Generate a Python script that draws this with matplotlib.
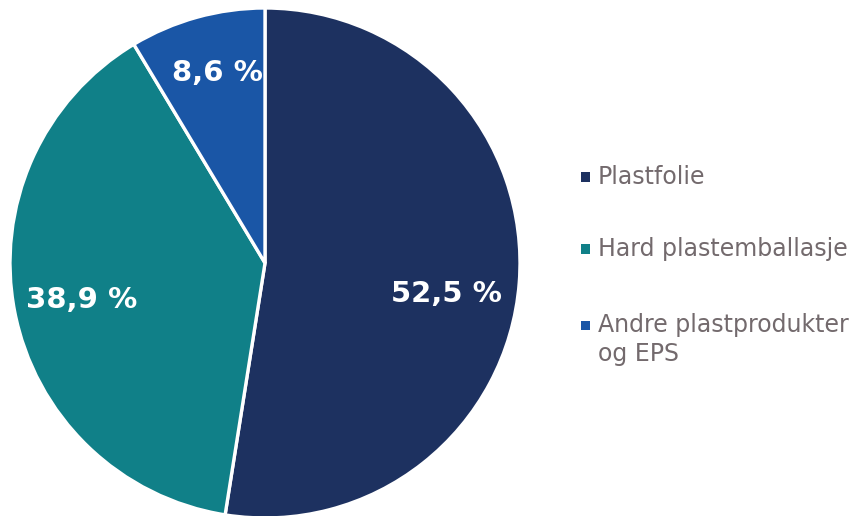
import matplotlib
matplotlib.use("Agg")
import matplotlib.pyplot as plt
from matplotlib.patches import Rectangle

plt.rcParams["font.family"] = ["DejaVu Sans"]

labels = ["Plastfolie", "Hard plastemballasje", "Andre plastprodukter\nog EPS"]
shares = [52.5, 38.9, 8.6]
colors = ["#1d3160", "#108088", "#1a56a6"]

text_grey = "#736a6d"

fig = plt.figure(figsize=(8.56, 5.16), dpi=100)
ax = fig.add_axes([10 / 856, -2 / 516, 510 / 856, 510 / 516])

wedges, _, autotexts = ax.pie(
    shares,
    colors=colors,
    startangle=90,
    counterclock=False,
    radius=1.0,
    autopct=lambda p: f"{p:.1f} %".replace(".", ","),
    pctdistance=0.72,
    wedgeprops=dict(edgecolor="white", linewidth=2.4),
    textprops=dict(color="white", fontsize=21, fontweight="bold"),
)
ax.set_xlim(-1, 1)
ax.set_ylim(-1, 1)
ax.set_aspect("equal")

# nudge the labels to where they sit on the slices
label_pos = [(0.71, -0.12), (-0.72, -0.145), (-0.185, 0.745)]
for t, (x, y) in zip(autotexts, label_pos):
    t.set_position((x, y))
    t.set_ha("center")
    t.set_va("center")

# legend drawn by hand: square marker + grey label
rows_y = [177, 249, 325]
for lab, col, y in zip(labels, colors, rows_y):
    fig.add_artist(Rectangle((581 / 856, 1 - (y + 4.5) / 516), 9 / 856, 9 / 516,
                             transform=fig.transFigure, facecolor=col, edgecolor="none"))
    if "\n" in lab:
        fig.text(598 / 856, 1 - (y - 12) / 516, lab, color=text_grey, fontsize=17,
                 ha="left", va="top", linespacing=1.28)
    else:
        fig.text(598 / 856, 1 - y / 516, lab, color=text_grey, fontsize=17,
                 ha="left", va="center")

fig.savefig("out.png", dpi=100)
